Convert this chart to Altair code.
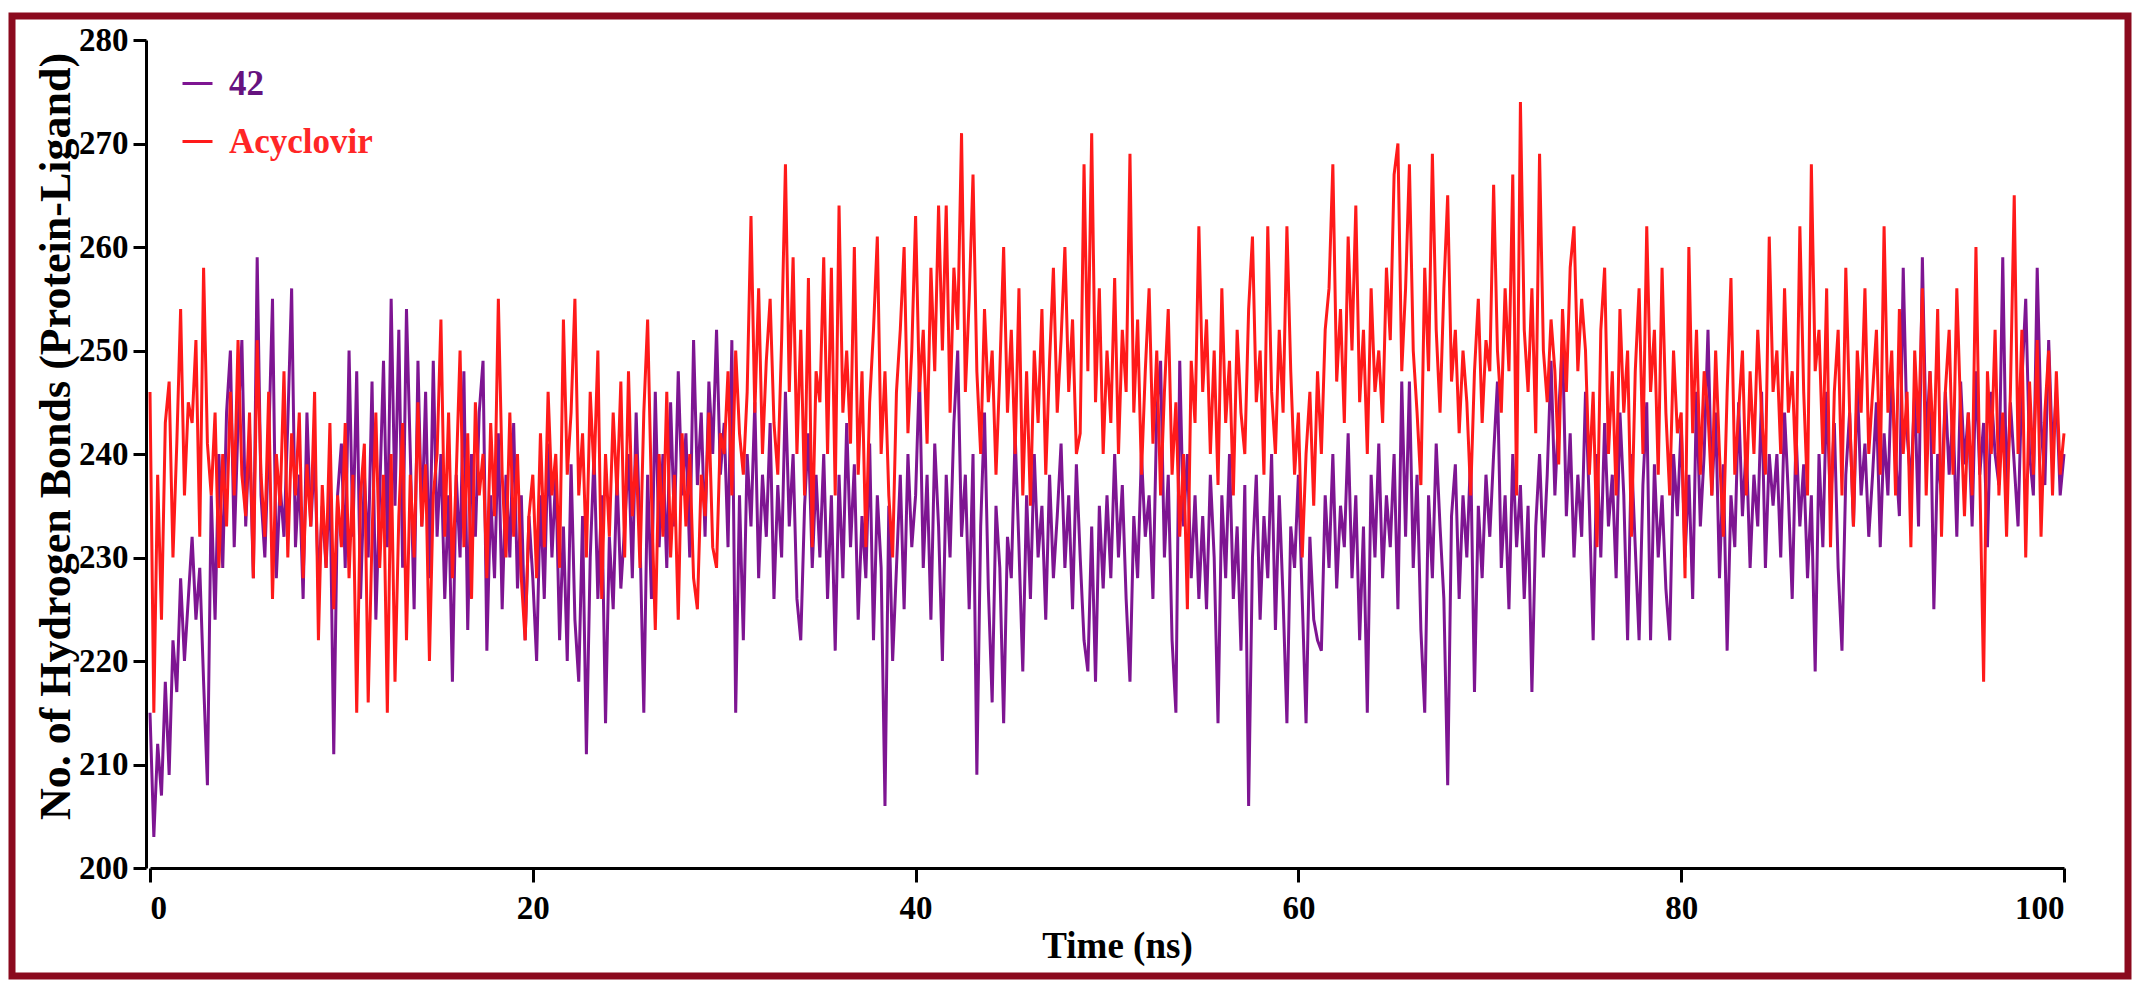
import altair as alt
import pandas as pd

# ---- data (0.2 ns sampling) ----
time_step_ns = 0.2

hb_42 = [
    215,203,212,207,218,209,222,217,228,220,226,232,224,229,218,208,236,224,240,229,244,250,231,243,251,
    233,242,228,259,236,230,241,255,228,237,232,243,256,231,238,226,244,233,240,227,235,229,238,211,236,
    241,229,250,232,248,226,238,230,247,224,236,249,231,255,235,252,229,254,240,225,249,233,246,228,249,
    232,240,226,236,218,238,230,248,223,240,232,244,249,221,236,228,242,225,238,230,243,227,236,222,234,
    228,220,236,226,241,230,238,222,233,220,239,224,218,234,211,230,240,226,236,214,232,225,238,227,233,
    240,228,244,232,215,238,226,246,231,240,229,245,233,248,236,242,230,251,237,244,232,247,240,252,238,
    243,231,251,215,236,222,240,233,245,228,238,232,243,226,237,230,246,233,240,226,222,235,242,229,238,
    230,240,226,236,221,238,228,243,231,239,224,234,228,241,222,236,229,206,235,220,229,238,225,240,231,
    236,248,229,238,224,241,233,220,238,230,243,250,232,238,225,240,209,233,244,227,216,235,229,214,232,
    228,242,231,219,236,226,240,230,235,224,238,228,234,241,229,236,225,239,230,222,219,233,218,235,227,
    236,228,240,230,237,226,218,234,228,240,232,236,226,244,249,230,238,222,215,249,233,240,228,236,226,
    234,225,238,230,214,236,228,240,226,233,221,237,206,230,238,224,234,228,240,223,236,226,214,233,229,
    238,226,214,232,224,222,221,236,229,240,227,235,231,242,228,236,222,233,215,238,230,241,228,236,231,
    240,225,247,232,247,229,238,223,215,236,228,241,233,226,208,234,239,226,236,230,240,217,235,228,238,
    232,240,247,229,236,225,240,231,237,226,235,217,233,240,230,238,249,236,244,251,234,242,230,238,232,
    246,235,222,240,230,243,233,238,228,244,236,222,240,231,222,237,245,222,239,230,236,227,222,240,234,
    243,230,238,226,246,233,240,252,236,244,228,239,221,236,231,245,234,241,229,238,233,246,229,240,235,
    240,230,244,236,226,242,233,239,228,236,219,240,231,246,235,243,229,221,238,244,233,247,236,241,232,
    238,245,231,242,236,248,240,234,258,242,237,246,233,259,241,248,225,240,236,246,238,244,232,247,239,
    244,233,248,238,243,231,246,240,237,259,236,245,239,233,247,255,240,236,258,243,237,251,240,246,236,
    240,
]

hb_acyclovir = [
    246,215,238,224,243,247,230,241,254,236,245,243,251,232,258,241,236,244,229,240,233,246,236,251,238,
    234,244,228,251,238,232,246,226,240,235,248,230,242,236,244,228,239,233,246,222,237,229,243,225,236,
    231,243,228,238,215,236,241,216,232,244,229,238,215,240,218,234,243,222,238,230,245,233,239,220,236,
    240,253,232,244,228,238,250,231,242,226,245,236,240,228,243,234,255,238,230,244,232,240,228,222,234,
    238,228,242,231,246,236,240,229,253,238,244,255,236,242,230,246,238,250,226,240,232,244,236,247,230,
    248,234,240,229,244,253,236,223,240,232,246,230,238,224,242,233,240,228,225,238,234,244,231,229,242,
    240,248,236,250,242,238,246,263,244,256,240,249,255,243,238,251,268,246,259,240,252,236,257,231,248,
    245,259,240,258,236,264,244,250,241,260,238,248,231,245,252,261,240,248,236,230,246,252,260,242,250,
    263,246,252,241,258,248,264,250,264,244,258,252,271,246,255,267,248,240,254,245,250,238,248,260,244,
    252,240,256,236,248,235,250,243,254,238,249,258,244,251,260,246,253,240,242,268,248,271,245,256,240,
    250,243,257,240,252,246,269,244,253,238,248,256,241,250,236,246,254,238,245,232,240,225,249,243,262,
    246,253,240,250,237,256,243,249,236,252,244,240,254,261,245,250,238,262,246,240,252,244,262,248,238,
    244,230,240,246,235,248,240,252,256,268,247,254,243,261,250,264,245,252,240,256,246,250,243,258,251,
    267,270,248,256,268,250,244,237,258,248,269,252,244,256,265,247,252,242,250,245,236,248,255,243,251,
    248,266,250,244,256,248,267,236,274,252,246,256,242,269,250,245,253,248,239,254,246,258,262,248,255,
    250,238,246,231,252,258,240,248,236,254,244,250,232,248,256,240,262,246,252,238,258,244,236,250,242,
    244,228,260,242,252,238,248,244,236,250,240,232,246,257,238,244,250,236,248,240,252,244,238,261,246,
    250,240,256,244,248,238,262,246,236,268,248,252,240,256,231,246,252,236,258,244,233,250,244,256,240,
    246,252,238,262,244,250,236,254,240,246,231,250,242,256,236,248,240,254,232,246,252,238,256,244,234,
    244,236,260,238,218,248,240,252,236,244,232,246,265,240,252,230,247,238,251,232,244,250,236,248,238,
    242,
]

series_names = ["42", "Acyclovir"]
series_colors = ["#7E1592", "#FF1A1A"]
legend_text_colors = ["#66127F", "#FF2626"]
x_tick_values = [0, 20, 40, 60, 80, 100]
y_tick_values = [200, 210, 220, 230, 240, 250, 260, 270, 280]
x_title = "Time (ns)"
y_title = "No. of Hydrogen Bonds (Protein-Ligand)"

n = min(len(hb_42), len(hb_acyclovir))
time_ns = [round(i * time_step_ns, 1) for i in range(n)]
df = pd.DataFrame({
    "Time": time_ns + time_ns,
    "HB": hb_42[:n] + hb_acyclovir[:n],
    "Series": [series_names[0]] * n + [series_names[1]] * n,
})

W, H = 1914, 828
FONT = "Liberation Serif"
FRAME = "#8B0A1E"

color = alt.Color(
    "Series:N",
    scale=alt.Scale(domain=series_names, range=series_colors),
    legend=alt.Legend(
        title=None, orient="none", legendX=30, legendY=26, padding=0,
        symbolType="stroke", symbolSize=900, symbolStrokeWidth=3,
        labelFont=FONT, labelFontSize=35, labelFontWeight="bold",
        labelColor={"expr": f"datum.label == '{series_names[0]}' ? '{legend_text_colors[0]}' : '{legend_text_colors[1]}'"},
        labelOffset=14, rowPadding=22,
    ),
)

common_axis = dict(
    domainColor="black", domainWidth=3, tickColor="black", tickWidth=3,
    labelFont=FONT, labelFontWeight="bold", labelColor="black",
    titleFont=FONT, titleFontWeight="bold", titleColor="black", grid=False,
)

x = alt.X(
    "Time:Q",
    scale=alt.Scale(domain=[0, 100], nice=False),
    axis=alt.Axis(values=x_tick_values, title=x_title, tickSize=14, labelPadding=10,
                  labelFontSize=33, titleFontSize=37, titleX=967, titleY=60,
                  **common_axis),
)
y = alt.Y(
    "HB:Q",
    scale=alt.Scale(domain=[200, 280], nice=False, zero=False),
    axis=alt.Axis(values=y_tick_values, title=y_title, tickSize=13, labelPadding=5,
                  labelFontSize=33, titleFontSize=44, titlePadding=0, titleY=396,
                  offset=4, **common_axis),
)

base = alt.Chart(df)
line_42 = base.transform_filter(alt.datum.Series == series_names[0]).mark_line(
    strokeWidth=3).encode(x=x, y=y, color=color)
line_acy = base.transform_filter(alt.datum.Series == series_names[1]).mark_line(
    strokeWidth=3).encode(x=x, y=y, color=color)

frame = alt.Chart(pd.DataFrame({"f": [0]})).mark_rect(
    fillOpacity=0, stroke=FRAME, strokeWidth=7
).encode(
    x=alt.value(-138), x2=alt.value(1978), y=alt.value(-24), y2=alt.value(936)
)

chart = alt.layer(line_42, line_acy, frame).properties(
    width=W, height=H,
    padding={"left": 142, "top": 32, "right": 74, "bottom": 112},
    autosize=alt.AutoSizeParams(type="none"),
    background="white",
).configure_view(strokeWidth=0)

chart.save("out.html", embed_options={"renderer": "svg", "actions": False})
